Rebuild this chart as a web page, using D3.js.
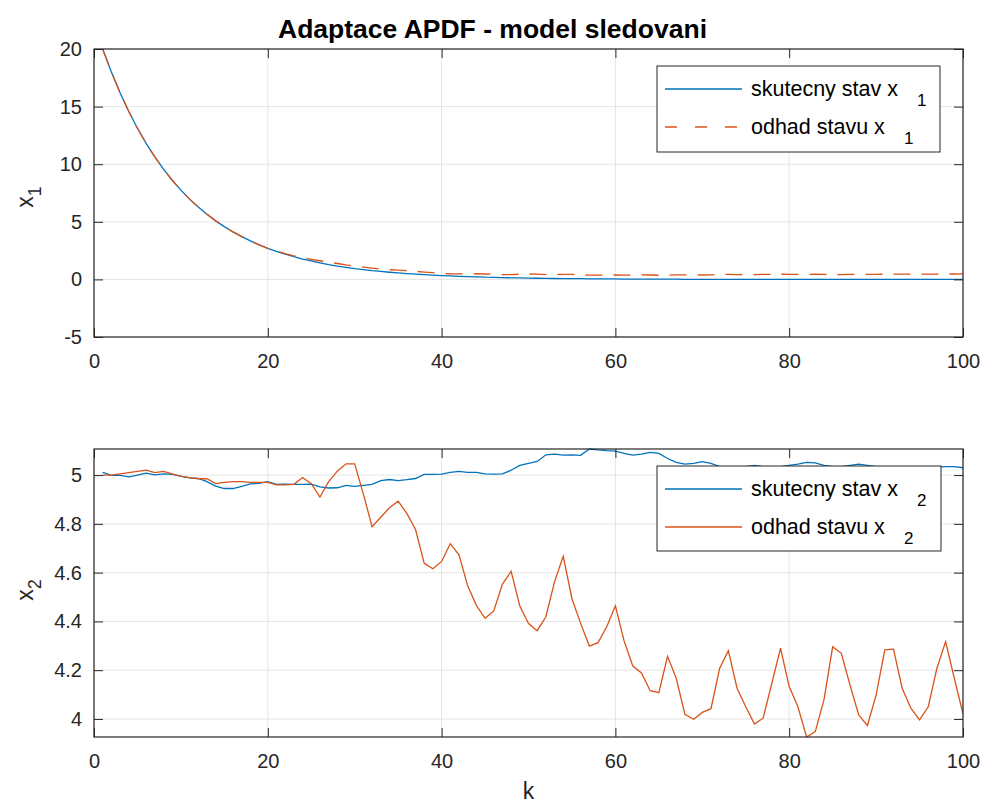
<!DOCTYPE html>
<html><head><meta charset="utf-8">
<script src="https://cdn.jsdelivr.net/npm/d3@7"></script>
<style>
body{margin:0;background:#fff;}
text{font-family:"Liberation Sans",Arial,Helvetica,sans-serif;}
</style></head>
<body><svg id="c" width="983" height="804"></svg>
<script>
// ---------- data ----------
const k = d3.range(1, 101);
const x1True = [20.00,18.00,16.20,14.58,13.12,11.81,10.63,9.57,8.61,7.75,
6.97,6.28,5.65,5.08,4.58,4.12,3.71,3.34,3.00,2.70,
2.43,2.19,1.97,1.77,1.60,1.44,1.29,1.16,1.05,0.94,
0.85,0.76,0.69,0.62,0.56,0.50,0.45,0.41,0.37,0.33,
0.30,0.27,0.24,0.22,0.19,0.18,0.16,0.14,0.13,0.11,
0.10,0.09,0.08,0.07,0.07,0.06,0.05,0.05,0.04,0.04,
0.03,0.03,0.03,0.02,0.02,0.02,0.02,0.01,0.01,0.01,
0.01,0.01,0.01,0.01,0.01,0.01,0.01,0.01,0.01,0.00,
0.00,0.00,0.00,0.00,0.00,0.00,0.00,0.00,0.00,0.00,
0.00,0.00,0.00,0.00,0.00,0.00,0.00,0.00,0.00,0.00];
const x1Est = [20.00,18.00,16.20,14.58,13.12,11.81,10.63,9.57,8.61,7.75,
6.97,6.28,5.65,5.08,4.58,4.12,3.71,3.34,3.00,2.70,
2.45,2.24,2.05,1.88,1.74,1.62,1.50,1.38,1.26,1.16,
1.07,0.98,0.90,0.84,0.80,0.76,0.70,0.64,0.58,0.52,
0.49,0.48,0.48,0.49,0.47,0.44,0.42,0.42,0.45,0.47,
0.45,0.42,0.42,0.44,0.43,0.40,0.37,0.37,0.38,0.38,
0.37,0.37,0.39,0.38,0.36,0.37,0.39,0.40,0.39,0.38,
0.40,0.43,0.43,0.42,0.40,0.42,0.44,0.44,0.45,0.44,
0.43,0.44,0.45,0.43,0.41,0.42,0.44,0.44,0.44,0.44,
0.45,0.46,0.46,0.46,0.45,0.45,0.46,0.47,0.47,0.48];
const x2True = [5.011,4.999,4.999,4.993,5.000,5.008,5.001,5.005,5.003,4.996,
4.989,4.986,4.973,4.955,4.945,4.945,4.954,4.964,4.966,4.973,
4.962,4.963,4.962,4.962,4.963,4.952,4.947,4.948,4.958,4.954,
4.958,4.962,4.977,4.982,4.977,4.981,4.986,5.003,5.003,5.004,
5.011,5.015,5.011,5.011,5.005,5.004,5.005,5.020,5.040,5.048,
5.056,5.083,5.086,5.082,5.083,5.081,5.107,5.103,5.100,5.098,
5.089,5.082,5.086,5.093,5.089,5.068,5.052,5.045,5.048,5.055,
5.048,5.035,5.030,5.030,5.035,5.040,5.035,5.030,5.035,5.040,
5.045,5.052,5.050,5.040,5.035,5.035,5.040,5.045,5.040,5.035,
5.030,5.030,5.035,5.035,5.030,5.030,5.033,5.035,5.035,5.030];
const x2Est = [5.000,5.000,5.005,5.010,5.015,5.020,5.010,5.015,5.005,4.995,
4.990,4.985,4.985,4.965,4.970,4.973,4.973,4.970,4.970,4.970,
4.960,4.960,4.962,4.990,4.965,4.910,4.973,5.016,5.046,5.046,
4.922,4.788,4.827,4.866,4.893,4.843,4.777,4.638,4.616,4.646,
4.719,4.673,4.546,4.466,4.413,4.443,4.553,4.605,4.463,4.391,
4.362,4.419,4.563,4.667,4.493,4.392,4.299,4.313,4.378,4.464,
4.320,4.217,4.189,4.116,4.108,4.257,4.167,4.019,3.999,4.027,
4.042,4.208,4.280,4.126,4.050,3.979,4.003,4.146,4.290,4.133,
4.050,3.926,3.948,4.078,4.296,4.269,4.139,4.016,3.973,4.098,
4.283,4.286,4.126,4.044,3.996,4.050,4.208,4.317,4.167,4.021];
const xTicks = [0,20,40,60,80,100];
const y1Ticks = [-5,0,5,10,15,20];
const y2Ticks = [4,4.2,4.4,4.6,4.8,5];
const y1TickLabels = ["-5","0","5","10","15","20"];
const y2TickLabels = ["4","4.2","4.4","4.6","4.8","5"];
const titleText = "Adaptace APDF - model sledovani";
const legend1 = ["skutecny stav x","odhad stavu x"];
const legend2 = ["skutecny stav x","odhad stavu x"];

// ---------- drawing ----------
const svg = d3.select("#c");
const BLUE = "#0072BD", ORANGE = "#D95319", AX = "#262626", GRID = "#e5e5e5";
const L = 94, R = 963;
const x = d3.scaleLinear().domain([0,100]).range([L,R]);

function panel(top, bottom, yDomain, yTicks, yLabels, series, legendLabels, sub, legBox, ylab, xlabel){
  const y = d3.scaleLinear().domain(yDomain).range([bottom, top]);
  const g = svg.append("g");
  g.selectAll(".gx").data(xTicks).join("line")
    .attr("x1", d=>x(d)).attr("x2", d=>x(d)).attr("y1", top).attr("y2", bottom)
    .attr("stroke", GRID).attr("stroke-width", 1);
  g.selectAll(".gy").data(yTicks).join("line")
    .attr("x1", L).attr("x2", R).attr("y1", d=>y(d)).attr("y2", d=>y(d))
    .attr("stroke", GRID).attr("stroke-width", 1);
  const clipId = "clip"+top;
  svg.append("clipPath").attr("id", clipId).append("rect")
    .attr("x", L).attr("y", top-1).attr("width", R-L).attr("height", bottom-top+2);
  series.forEach(s=>{
    const line = d3.line().x((d,i)=>x(k[i])).y(d=>y(d));
    g.append("path").datum(s.data).attr("d", line)
      .attr("fill","none").attr("stroke", s.color).attr("stroke-width",1.3)
      .attr("stroke-dasharray", s.dash || null)
      .attr("clip-path", `url(#${clipId})`);
  });
  const tl = 9;
  const fmtY = d => yLabels[yTicks.indexOf(d)];
  const axL = d3.axisLeft(y).tickValues(yTicks).tickFormat(fmtY).tickSizeInner(-tl).tickSizeOuter(0).tickPadding(12);
  const axR = d3.axisRight(y).tickValues(yTicks).tickFormat("").tickSizeInner(-tl).tickSizeOuter(0);
  const axB = d3.axisBottom(x).tickValues(xTicks).tickFormat(d=>String(d)).tickSizeInner(-tl).tickSizeOuter(0).tickPadding(17);
  const axT = d3.axisTop(x).tickValues(xTicks).tickFormat("").tickSizeInner(-tl).tickSizeOuter(0);
  const style = sel => {
    sel.selectAll("line").attr("stroke", AX).attr("stroke-width",1);
    sel.select(".domain").remove();
    sel.selectAll("text").attr("fill", AX).style("font-size","20px").style("font-family",'"Liberation Sans",Arial,sans-serif');
  };
  g.append("g").attr("transform",`translate(${L},0)`).call(axL).call(style);
  g.append("g").attr("transform",`translate(${R},0)`).call(axR).call(style);
  g.append("g").attr("transform",`translate(0,${bottom})`).call(axB).call(style);
  g.append("g").attr("transform",`translate(0,${top})`).call(axT).call(style);
  g.append("rect").attr("x",L).attr("y",top).attr("width",R-L).attr("height",bottom-top)
    .attr("fill","none").attr("stroke",AX).attr("stroke-width",1.2);
  const yl = g.append("text").attr("transform",`translate(${ylab.x},${ylab.y}) rotate(-90)`)
    .attr("text-anchor","middle").attr("fill",AX).style("font-size","23px");
  yl.append("tspan").text("x");
  yl.append("tspan").attr("dy",8).style("font-size","18px").text(sub);
  const lg = g.append("g");
  lg.append("rect").attr("x",legBox.x).attr("y",legBox.y).attr("width",legBox.w).attr("height",legBox.h)
    .attr("fill","#fff").attr("stroke",AX).attr("stroke-width",1);
  series.forEach((s,i)=>{
    const cy = legBox.y + 23 + i*38;
    lg.append("line").attr("x1",legBox.x+8).attr("x2",legBox.x+85).attr("y1",cy).attr("y2",cy)
      .attr("stroke",s.color).attr("stroke-width",1.3).attr("stroke-dasharray", s.dash ? "12,18" : null);
    const t = lg.append("text").attr("x",legBox.x+94).attr("y",cy+7).attr("fill","#000").style("font-size","21.5px");
    t.append("tspan").text(legendLabels[i]);
    t.append("tspan").attr("dx",19).attr("dy",10).style("font-size","17px").text(sub);
  });
  if (xlabel) {
    g.append("text").attr("x",(L+R)/2).attr("y",799).attr("text-anchor","middle")
      .attr("fill",AX).style("font-size","23px").text(xlabel);
  }
}

panel(49, 337, [-5,20], y1Ticks, y1TickLabels,
  [{data:x1True,color:BLUE},{data:x1Est,color:ORANGE,dash:"17,11"}],
  legend1, "1", {x:657,y:66,w:283,h:86}, {x:33,y:197}, null);
panel(449, 737, [3.926,5.107], y2Ticks, y2TickLabels,
  [{data:x2True,color:BLUE},{data:x2Est,color:ORANGE}],
  legend2, "2", {x:657,y:466,w:284,h:85}, {x:33,y:590}, "k");

svg.append("text").attr("x",(L+R)/2 - 36).attr("y",38).attr("text-anchor","middle")
  .attr("fill","#000").style("font-size","26.5px").style("font-weight","bold").text(titleText);
</script></body></html>
